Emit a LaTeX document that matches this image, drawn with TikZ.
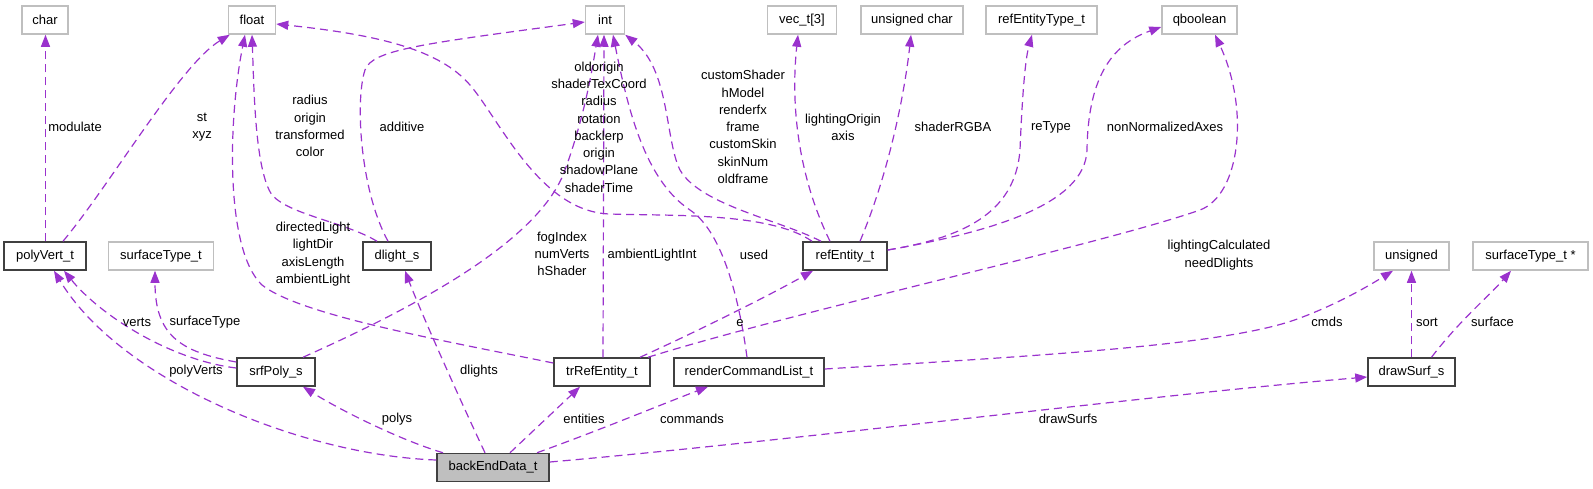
\documentclass[tikz,border=0pt]{standalone}
\usepackage{fontspec}
\setmainfont{Liberation Sans}
\usetikzlibrary{arrows.meta}
\definecolor{edgepurple}{HTML}{9A32CD}
\definecolor{boxgrey}{HTML}{BFBFBF}
\definecolor{boxdark}{HTML}{404040}
\tikzset{
  typebox/.style={draw=boxgrey,line width=1.5pt,minimum height=28pt,inner sep=0pt,font=\fontsize{13}{17.3}\selectfont},
  structbox/.style={typebox,draw=boxdark},
  rootbox/.style={structbox,fill=boxgrey},
  member/.style={draw=edgepurple,line width=1.2pt,dash pattern=on 8pt off 5pt,-{Triangle[length=12pt,width=9pt]}},
  field/.style={align=center,inner sep=0pt,font=\fontsize{13}{17.3}\selectfont}
}
\begin{document}
\begin{tikzpicture}[x=1pt,y=-1pt]
  \useasboundingbox (0,0) rectangle (1593,488);
  \node[typebox,minimum width=46pt] (char) at (45,20) {char};
  \node[typebox,minimum width=47pt] (float) at (252,20) {float};
  \node[typebox,minimum width=39pt] (int) at (605,20) {int};
  \node[typebox,minimum width=69pt] (vec) at (802,20) {vec\_t[3]};
  \node[typebox,minimum width=102pt] (uchar) at (912,20) {unsigned char};
  \node[typebox,minimum width=111pt] (entType) at (1041.5,20) {refEntityType\_t};
  \node[typebox,minimum width=75pt] (qboolean) at (1199.5,20) {qboolean};
  \node[structbox,minimum width=82pt] (polyVert) at (45,256) {polyVert\_t};
  \node[typebox,minimum width=105pt] (surfType) at (161,256) {surfaceType\_t};
  \node[structbox,minimum width=68pt] (dlight) at (397,256) {dlight\_s};
  \node[structbox,minimum width=84pt] (refEntity) at (845,256) {refEntity\_t};
  \node[typebox,minimum width=75pt] (unsigned) at (1411.5,256) {unsigned};
  \node[typebox,minimum width=115pt] (surfTypePtr) at (1530.5,256) {surfaceType\_t *};
  \node[structbox,minimum width=78pt] (srfPoly) at (276,372) {srfPoly\_s};
  \node[structbox,minimum width=96pt] (trRefEntity) at (602,372) {trRefEntity\_t};
  \node[structbox,minimum width=150pt] (renderCmd) at (749,372) {renderCommandList\_t};
  \node[structbox,minimum width=87pt] (drawSurf) at (1411.5,372) {drawSurf\_s};
  \node[rootbox,minimum width=112pt] (backEnd) at (493,467.5) {backEndData\_t};

  \draw[member] ([xshift=0.5pt]polyVert.north) -- ([xshift=0.5pt]char.south)
    node[field] (modulateLbl) at (75,127) {modulate};
  \draw[member] ([xshift=18pt]polyVert.north) .. controls (110,185) and (180,65) .. ([xshift=2pt]float.south west)
    node[field] (stLbl) at (202,127) {st\\xyz};
  \draw[member] ([xshift=-20pt]dlight.north) .. controls (345,222) and (290,215) .. (272,195) .. controls (255,170) and (254,90) .. (float.south)
    node[field] (radiusLbl) at (310,126) {radius\\origin\\transformed\\color};
  \draw[member] ([yshift=9pt]trRefEntity.west) .. controls (440,340) and (300,315) .. (262,285) .. controls (225,250) and (228,120) .. ([xshift=-7pt]float.south)
    node[field] (lightLbl) at (313,254) {directedLight\\lightDir\\axisLength\\ambientLight};
  \draw[member] ([xshift=-9pt]dlight.north) .. controls (360,190) and (355,100) .. (365,70) .. controls (372,50) and (420,44) .. ([yshift=-2pt]int.west)
    node[field] (additiveLbl) at (402,127) {additive};
  \draw[member] ([xshift=27pt]srfPoly.north) .. controls (420,305) and (540,240) .. (565,170) .. controls (585,115) and (592,70) .. ([xshift=-7pt]int.south)
    node[field] (fogLbl) at (562,254) {fogIndex\\numVerts\\hShader};
  \draw[member] ([xshift=1pt]trRefEntity.north) -- ([xshift=-1pt]int.south)
    node[field] (ambientLbl) at (652,255) {ambientLightInt};
  \draw[member] ([xshift=-2pt]renderCmd.north) .. controls (738,290) and (720,230) .. (690,210) .. controls (645,180) and (628,110) .. ([xshift=8pt]int.south)
    node[field] (usedLbl) at (754,255) {used};
  \draw[member] ([xshift=-24pt]refEntity.north) .. controls (780,220) and (700,205) .. (680,170) .. controls (665,140) and (670,70) .. (int.south east)
    node[field] (shaderLbl) at (743,127) {customShader\\hModel\\renderfx\\frame\\customSkin\\skinNum\\oldframe};
  \draw[member] ([xshift=-33pt]refEntity.north) .. controls (770,212) and (670,216) .. (610,214) .. controls (540,212) and (500,120) .. (470,85) .. controls (440,50) and (380,35) .. ([yshift=-4pt]float.east)
    node[field] (originLbl) at (599,127) {oldorigin\\shaderTexCoord\\radius\\rotation\\backlerp\\origin\\shadowPlane\\shaderTime};
  \draw[member] ([xshift=-15pt]refEntity.north) .. controls (800,180) and (790,110) .. ([xshift=-4pt]vec.south)
    node[field] (axisLbl) at (843,127) {lightingOrigin\\axis};
  \draw[member] ([xshift=15pt]refEntity.north) .. controls (890,170) and (905,90) .. ([xshift=-1pt]uchar.south)
    node[field] (rgbaLbl) at (953,127) {shaderRGBA};
  \draw[member] ([yshift=6pt]refEntity.east) .. controls (960,238) and (1015,215) .. (1020,150) .. controls (1022,100) and (1025,60) .. ([xshift=-9.5pt]entType.south)
    node[field] (reTypeLbl) at (1051,127) {reType};
  \draw[member] ([yshift=6pt]refEntity.east) .. controls (990,232) and (1085,205) .. (1087,150) .. controls (1088,80) and (1110,45) .. ([yshift=-7pt]qboolean.west)
    node[field] (axesLbl) at (1165,127) {nonNormalizedAxes};
  \draw[member] ([xshift=46pt]trRefEntity.north) .. controls (800,310) and (1100,245) .. (1200,210) .. controls (1240,195) and (1250,110) .. ([xshift=15.5pt]qboolean.south)
    node[field] (calcLbl) at (1219,255) {lightingCalculated\\needDlights};
  \draw[member] ([xshift=38pt]trRefEntity.north) .. controls (700,330) and (770,295) .. ([xshift=-32pt]refEntity.south)
    node[field] (eLbl) at (740,323) {e};
  \draw[member] ([yshift=4pt]srfPoly.west) .. controls (170,360) and (100,315) .. ([xshift=19pt]polyVert.south)
    node[field] (vertsLbl) at (137,322) {verts};
  \draw[member] ([yshift=10pt]srfPoly.west) .. controls (180,352) and (155,335) .. ([xshift=-6pt]surfType.south)
    node[field] (surfTypeLbl) at (205,322) {surfaceType};
  \draw[member] ([yshift=7.5pt]backEnd.west) .. controls (300,455) and (120,380) .. ([xshift=9pt]polyVert.south)
    node[field] (polyVertsLbl) at (196,371) {polyVerts};
  \draw[member] ([xshift=-50pt]backEnd.north) .. controls (400,440) and (340,410) .. ([xshift=27pt]srfPoly.south)
    node[field] (polysLbl) at (397,419) {polys};
  \draw[member] ([xshift=-8pt]backEnd.north) .. controls (460,400) and (420,310) .. ([xshift=8pt]dlight.south)
    node[field] (dlightsLbl) at (479,371) {dlights};
  \draw[member] ([xshift=17pt]backEnd.north) -- ([xshift=-22pt]trRefEntity.south)
    node[field] (entitiesLbl) at (584,419) {entities};
  \draw[member] ([xshift=44pt]backEnd.north) .. controls (600,430) and (660,405) .. ([xshift=-41pt]renderCmd.south)
    node[field] (commandsLbl) at (692,419) {commands};
  \draw[member] ([yshift=5.5pt]backEnd.east) .. controls (800,440) and (1150,395) .. ([yshift=-5pt]drawSurf.west)
    node[field] (drawSurfsLbl) at (1068,419) {drawSurfs};
  \draw[member] ([yshift=3pt]renderCmd.east) .. controls (1050,355) and (1230,345) .. (1300,318) .. controls (1340,303) and (1370,285) .. ([xshift=-18.5pt]unsigned.south)
    node[field] (cmdsLbl) at (1327,322) {cmds};
  \draw[member] (drawSurf.north) -- (unsigned.south)
    node[field] (sortLbl) at (1427,322) {sort};
  \draw[member] ([xshift=20pt]drawSurf.north) .. controls (1460,320) and (1490,295) .. ([xshift=-19.5pt]surfTypePtr.south)
    node[field] (surfaceLbl) at (1492.5,322) {surface};
\end{tikzpicture}
\end{document}
